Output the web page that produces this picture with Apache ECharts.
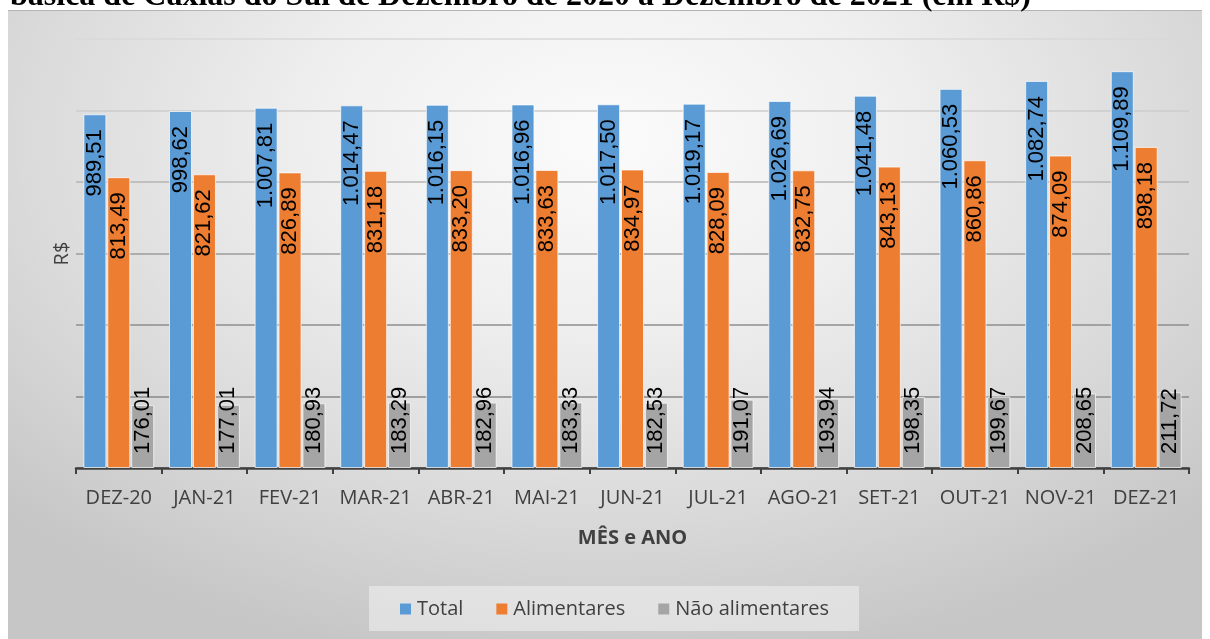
<!DOCTYPE html>
<html>
<head>
<meta charset="utf-8">
<script src="https://cdn.jsdelivr.net/npm/echarts@6/dist/echarts.min.js"></script>
<style>
  html, body { margin: 0; padding: 0; background: #ffffff; }
  #bg { position: absolute; left: 8px; top: 10px; width: 1194px; height: 629px;
        border-top: 1px solid #b4b4b4;
        background: radial-gradient(ellipse 70% 85% at 50% 20%, #fbfbfb 0%, #efefef 35%, #dadada 70%, #c6c6c6 100%); }
  #chart { position: absolute; left: 0; top: 0; width: 1210px; height: 639px; }
</style>
</head>
<body>
<div id="bg"></div>
<div id="chart"></div>
<script>
const titleText = 'básica de Caxias do Sul de Dezembro de 2020 a Dezembro de 2021 (em R$)';
const categories = ['DEZ-20', 'JAN-21', 'FEV-21', 'MAR-21', 'ABR-21', 'MAI-21', 'JUN-21', 'JUL-21', 'AGO-21', 'SET-21', 'OUT-21', 'NOV-21', 'DEZ-21'];
const totalValues = [989.51, 998.62, 1007.81, 1014.47, 1016.15, 1016.96, 1017.50, 1019.17, 1026.69, 1041.48, 1060.53, 1082.74, 1109.89];
const alimentaresValues = [813.49, 821.62, 826.89, 831.18, 833.20, 833.63, 834.97, 828.09, 832.75, 843.13, 860.86, 874.09, 898.18];
const naoAlimentaresValues = [176.01, 177.01, 180.93, 183.29, 182.96, 183.33, 182.53, 191.07, 193.94, 198.35, 199.67, 208.65, 211.72];
const seriesNames = ['Total', 'Alimentares', 'Não alimentares'];

function fmtBR(v) {
  const parts = v.toFixed(2).split('.');
  const intPart = parts[0].replace(/\B(?=(\d{3})+(?!\d))/g, '.');
  return intPart + ',' + parts[1];
}

const chart = echarts.init(document.getElementById('chart'), null, { renderer: 'canvas' });

const labelFont = { fontFamily: 'Liberation Sans', fontSize: 22, color: '#000000' };
const topLabel = Object.assign({
  show: true, position: 'insideTop', distance: 15, rotate: 90,
  align: 'right', verticalAlign: 'middle',
  formatter: p => fmtBR(p.value)
}, labelFont);
const bottomLabel = Object.assign({
  show: true, position: 'insideBottom', distance: 14, rotate: 90,
  align: 'left', verticalAlign: 'middle',
  formatter: p => fmtBR(p.value)
}, labelFont);

const barBorder = { borderColor: 'rgba(255,255,255,0.7)', borderWidth: 1 };

chart.setOption({
  animation: false,
  backgroundColor: 'transparent',
  graphic: [{
    type: 'text', left: 10, top: -19,
    style: { text: titleText, font: 'bold 32px "Liberation Serif"', fill: '#000000' }
  }],
  grid: { left: 76, right: 21, top: 39, bottom: 171, containLabel: false },
  legend: {
    data: seriesNames,
    left: 369, top: 586,
    padding: [13, 30, 12, 31],
    backgroundColor: 'rgba(242,242,242,0.55)',
    itemWidth: 11, itemHeight: 11, itemGap: 33,
    icon: 'rect',
    itemStyle: { borderWidth: 0 },
    textStyle: { fontFamily: 'Open Sans', fontSize: 20, color: '#404040', padding: [0, 0, 0, 1] }
  },
  xAxis: {
    type: 'category',
    data: categories,
    name: 'MÊS e ANO',
    nameLocation: 'middle',
    nameGap: 60,
    nameTextStyle: { fontFamily: 'Open Sans', fontSize: 20, fontWeight: 'bold', color: '#404040' },
    axisLine: { lineStyle: { color: '#404040', width: 2.5 } },
    axisTick: { show: true, length: 6, lineStyle: { color: '#404040', width: 2 } },
    axisLabel: { interval: 0, fontFamily: 'Open Sans', fontSize: 20, color: '#404040', margin: 20 }
  },
  yAxis: {
    type: 'value',
    min: 0, max: 1200, interval: 200,
    name: 'R$',
    nameLocation: 'middle',
    nameGap: 4,
    nameTextStyle: { fontFamily: 'Open Sans', fontSize: 20, color: '#404040' },
    axisLine: { show: false },
    axisTick: { show: false },
    axisLabel: { show: false },
    splitLine: { lineStyle: { width: 1.5, color: ['#888888', '#888888', '#8e8e8e', '#9c9c9c', '#b4b4b4', '#cdcdcd', '#d9d9d9'] } }
  },
  series: [
    { name: seriesNames[0], type: 'bar', data: totalValues, barWidth: 23, barGap: '4%',
      itemStyle: Object.assign({ color: '#5B9BD5' }, barBorder), label: topLabel },
    { name: seriesNames[1], type: 'bar', data: alimentaresValues, barWidth: 23, barGap: '4%',
      itemStyle: Object.assign({ color: '#ED7D31' }, barBorder), label: topLabel },
    { name: seriesNames[2], type: 'bar', data: naoAlimentaresValues, barWidth: 23, barGap: '4%',
      itemStyle: Object.assign({ color: '#A5A5A5' }, barBorder), label: bottomLabel }
  ]
});
</script>
</body>
</html>
